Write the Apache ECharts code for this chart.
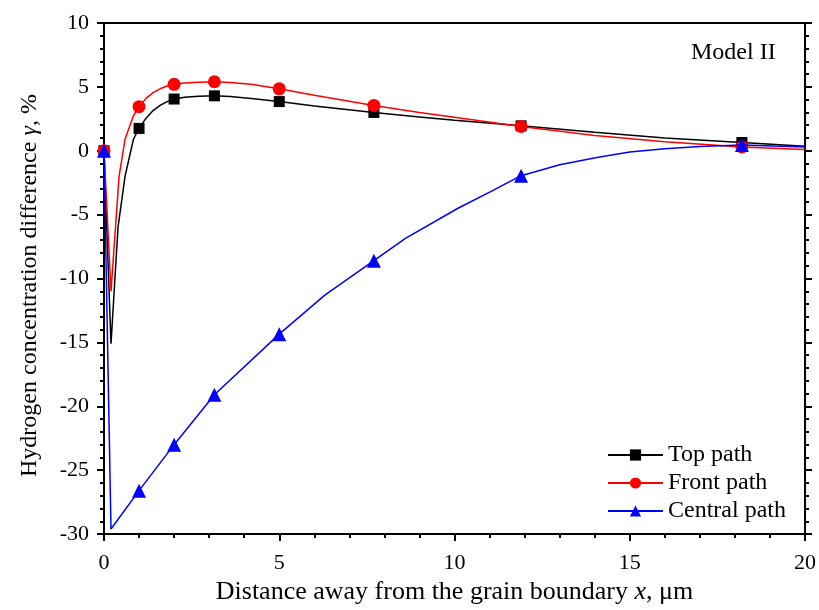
<!DOCTYPE html>
<html>
<head>
<meta charset="utf-8">
<script src="https://cdn.jsdelivr.net/npm/echarts@6/dist/echarts.min.js"></script>
<style>
html,body{margin:0;padding:0;background:#fff;}
#chart{width:819px;height:610px;}
</style>
</head>
<body>
<div id="chart"></div>
<script>
// ---- data ----
var seriesNames = ['Top path', 'Front path', 'Central path'];
var markerX = [0, 1, 2, 3.15, 5, 7.7, 11.9, 18.2];

var topX = [0, 0.2, 0.4, 0.6, 0.84, 1, 1.2, 1.4, 1.6, 1.8, 2, 2.3, 2.7, 3.15, 3.6, 4.2, 5, 6, 7.7, 9, 10, 11.9, 14, 16, 18.2, 20];
var topY = [0, -15.1, -6.0, -2.0, 0.9, 1.75, 2.55, 3.15, 3.55, 3.85, 4.05, 4.18, 4.27, 4.3, 4.25, 4.1, 3.85, 3.5, 3.0, 2.65, 2.38, 1.95, 1.45, 1.0, 0.65, 0.36];

var frontX = [0, 0.2, 0.43, 0.6, 0.84, 1, 1.2, 1.4, 1.6, 1.8, 2, 2.3, 2.7, 3.15, 3.6, 4.2, 5, 6, 7.7, 9, 10, 11.9, 14, 16, 18.2, 20];
var frontY = [0, -11.0, -2.0, 0.9, 2.74, 3.45, 4.1, 4.55, 4.85, 5.07, 5.2, 5.3, 5.37, 5.4, 5.35, 5.2, 4.85, 4.35, 3.55, 3.0, 2.62, 1.9, 1.2, 0.7, 0.3, 0.1];

var centralX = [0, 0.2, 1, 2, 3.15, 5, 6.3, 7.7, 8.6, 10.1, 11.1, 11.9, 13, 14.1, 15, 16, 17, 18.2, 20];
var centralY = [0, -29.6, -26.6, -23.0, -19.1, -14.35, -11.3, -8.6, -6.85, -4.5, -3.1, -1.95, -1.1, -0.5, -0.1, 0.15, 0.33, 0.45, 0.3];

var xTicks = {min: 0, max: 20, step: 5};
var yTicks = {min: -30, max: 10, step: 5};

// ---- build ----
var FONT = '"Liberation Serif", "Times New Roman", serif';
function build(xs, ys) {
  return xs.map(function (x, i) {
    var isMarker = markerX.indexOf(x) >= 0;
    return isMarker ? {value: [x, ys[i]]} : {value: [x, ys[i]], symbol: 'none'};
  });
}
var colors = ['#000000', '#ff0000', '#0000ff'];
var symbols = ['rect', 'circle', 'triangle'];
var sizes = [11, 13, 14];
var xsAll = [topX, frontX, centralX];
var ysAll = [topY, frontY, centralY];

var series = seriesNames.map(function (n, k) {
  return {
    name: n, type: 'line', xAxisIndex: 0, yAxisIndex: 0,
    data: build(xsAll[k], ysAll[k]),
    symbol: symbols[k], symbolSize: sizes[k], showAllSymbol: true,
    smooth: false,
    lineStyle: {color: colors[k], width: 1.5},
    itemStyle: {color: colors[k]},
    emphasis: {disabled: true},
    animation: false, z: 2 + k
  };
});

var axisLine = {show: true, onZero: false, lineStyle: {color: '#000', width: 2}};
var chart = echarts.init(document.getElementById('chart'));
chart.setOption({
  animation: false,
  backgroundColor: '#fff',
  grid: {left: 104, right: 13, top: 23, bottom: 72, containLabel: false},
  legend: {
    data: seriesNames, orient: 'vertical', left: 602, top: 438,
    itemWidth: 55, itemHeight: 14, itemGap: 4,
    textStyle: {fontFamily: FONT, fontSize: 24, color: '#000'}
  },
  graphic: [{
    type: 'text', left: 691, top: 41,
    style: {text: 'Model II', fontFamily: FONT, fontSize: 24, fill: '#000'}
  }],
  xAxis: [{
    type: 'value', min: xTicks.min, max: xTicks.max, interval: xTicks.step,
    position: 'bottom',
    axisLine: axisLine,
    axisTick: {show: true, length: 7, lineStyle: {width: 2, color: '#000'}},
    minorTick: {show: true, splitNumber: 5, length: 4, lineStyle: {width: 2, color: '#000'}},
    splitLine: {show: false},
    axisLabel: {fontFamily: FONT, fontSize: 22, color: '#000', margin: 18},
    name: 'Distance away from the grain boundary {i|x}, μm',
    nameLocation: 'middle', nameGap: 43,
    nameTextStyle: {fontFamily: FONT, fontSize: 26, color: '#000',
      rich: {i: {fontFamily: FONT, fontSize: 26, fontStyle: 'italic', color: '#000'}}}
  }, {
    type: 'value', min: xTicks.min, max: xTicks.max, interval: xTicks.step,
    position: 'top',
    axisLine: axisLine, axisTick: {show: false}, axisLabel: {show: false},
    splitLine: {show: false}
  }],
  yAxis: [{
    type: 'value', min: yTicks.min, max: yTicks.max, interval: yTicks.step,
    position: 'left',
    axisLine: axisLine,
    axisTick: {show: true, length: 7, lineStyle: {width: 2, color: '#000'}},
    minorTick: {show: true, splitNumber: 5, length: 4, lineStyle: {width: 2, color: '#000'}},
    splitLine: {show: false},
    axisLabel: {fontFamily: FONT, fontSize: 22, color: '#000', margin: 15},
    name: 'Hydrogen concentration difference {i|γ}, %',
    nameLocation: 'middle', nameGap: 62, nameRotate: 90,
    nameTextStyle: {fontFamily: FONT, fontSize: 24, color: '#000', padding: [0, 14, 0, 0],
      rich: {i: {fontFamily: FONT, fontSize: 24, fontStyle: 'italic', color: '#000'}}}
  }, {
    type: 'value', min: yTicks.min, max: yTicks.max, interval: yTicks.step,
    position: 'right',
    axisLine: axisLine,
    axisTick: {show: true, length: 7, lineStyle: {width: 2, color: '#000'}},
    minorTick: {show: true, splitNumber: 5, length: 4, lineStyle: {width: 2, color: '#000'}},
    axisLabel: {show: false}, splitLine: {show: false}
  }],
  series: series
});
</script>
</body>
</html>
